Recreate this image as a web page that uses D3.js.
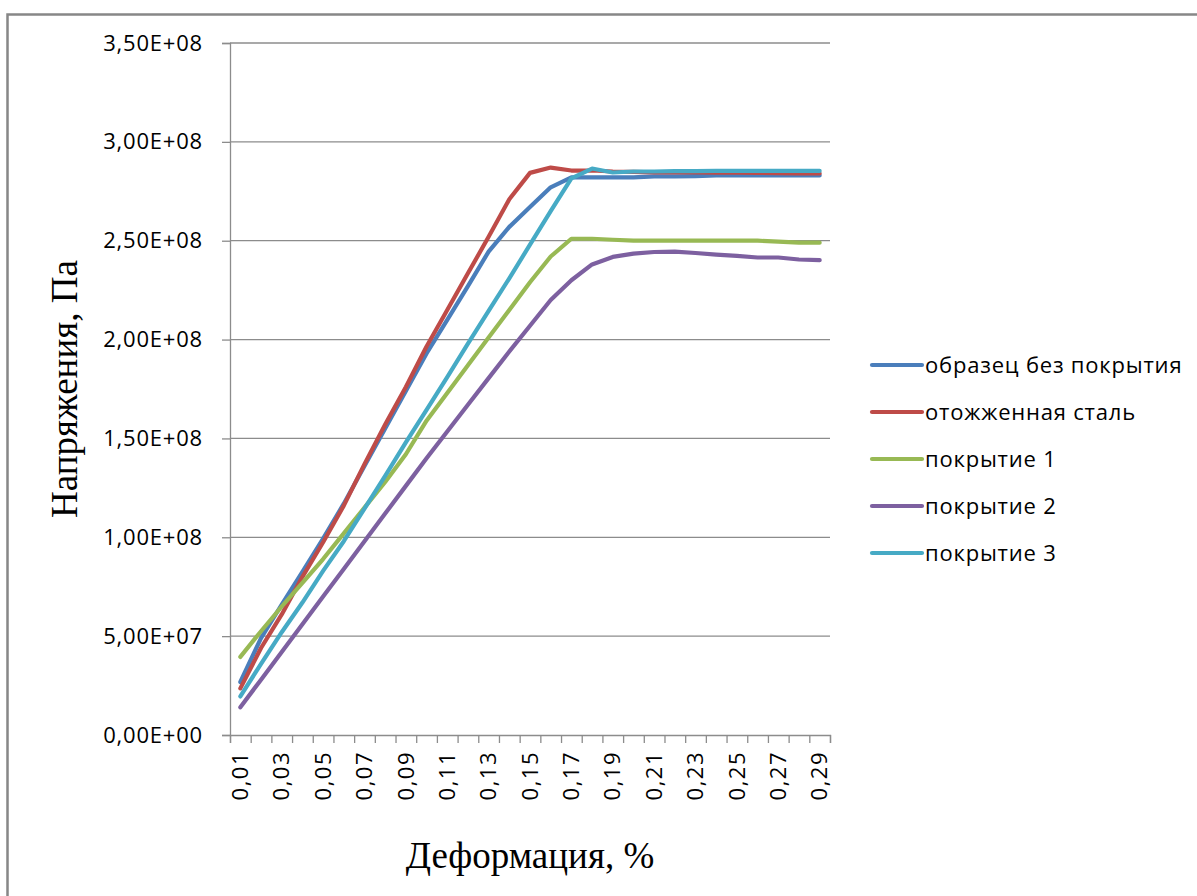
<!DOCTYPE html>
<html>
<head>
<meta charset="utf-8">
<script src="https://cdn.jsdelivr.net/npm/d3@7"></script>
<style>
  html, body { margin: 0; padding: 0; background: #fff; }
  svg { display: block; }
</style>
</head>
<body>
<svg id="chart" width="1197" height="896"></svg>
<script>
// Strain categories, %
const strain = ["0,01","0,02","0,03","0,04","0,05","0,06","0,07","0,08","0,09","0,10",
                "0,11","0,12","0,13","0,14","0,15","0,16","0,17","0,18","0,19","0,20",
                "0,21","0,22","0,23","0,24","0,25","0,26","0,27","0,28","0,29"];

// Stress, Pa (in millions below, scaled by 1e6 when drawn)
const uncoated = [26.8, 49, 66, 82.5, 99.3, 117, 136, 155, 174, 193,
                  210, 227, 244.5, 257, 267, 277, 282, 282, 282, 282,
                  282.5, 282.5, 282.7, 283, 283, 283, 283, 283, 283];
const annealed = [23.6, 44, 61, 80, 97.5, 116, 137, 157, 176, 196.5,
                  215, 233.5, 252, 271, 284.3, 287, 285.5, 285.5, 285, 284.8,
                  284.6, 284.5, 284.5, 284.4, 284.4, 284.3, 284.2, 284.1, 284];
const coating1 = [39.5, 52.5, 65, 77, 89, 102, 115, 128, 142, 159,
                  173, 187, 201, 215, 229, 242, 251, 251, 250.5, 250,
                  250, 250, 250, 250, 250, 250, 249.5, 249, 249];
const coating2 = [14, 28, 42, 56, 70, 84, 98, 112, 126, 140,
                  153.5, 167, 180.5, 194, 207, 220, 230, 238, 241.8, 243.5,
                  244.3, 244.5, 243.8, 243, 242.3, 241.5, 241.5, 240.5, 240.2];
const coating3 = [19.5, 36, 52, 67, 83, 98, 114.5, 131, 148, 164.5,
                  181, 198, 214.5, 231, 248, 265, 281.5, 286.5, 284.5, 285,
                  285, 285.2, 285.2, 285.3, 285.3, 285.3, 285.3, 285.3, 285.3];

const seriesNames  = ["образец без покрытия", "отожженная сталь", "покрытие 1", "покрытие 2", "покрытие 3"];
const seriesValues = [uncoated, annealed, coating1, coating2, coating3];
const seriesColors = ["#4A7EBB", "#BE4B48", "#98B954", "#7D60A0", "#46AAC5"];

const yTickValues = [0, 5e7, 1e8, 1.5e8, 2e8, 2.5e8, 3e8, 3.5e8];
const yTickLabels = ["0,00E+00","5,00E+07","1,00E+08","1,50E+08","2,00E+08","2,50E+08","3,00E+08","3,50E+08"];
const xLabelEvery = 2;

const yTitle = "Напряжения, Па";
const xTitle = "Деформация, %";

const svg = d3.select("#chart");
const plot = { left: 230, right: 830, top: 43, bottom: 735 };
const gridColor = "#8c8c8c";
const labelFont = "'Open Sans', sans-serif";
const titleFont = "'Liberation Serif', 'Times New Roman', serif";

// outer chart frame
svg.append("rect")
  .attr("x", 7.5).attr("y", 14.5)
  .attr("width", 1210).attr("height", 900)
  .attr("fill", "none").attr("stroke", "#878787").attr("stroke-width", 2.5);

const x = d3.scaleBand().domain(strain).range([plot.left, plot.right]).padding(0);
const xEdge = d3.scaleLinear().domain([0, strain.length]).range([plot.left, plot.right]);
const y = d3.scaleLinear().domain([0, 3.5e8]).range([plot.bottom, plot.top]);

// horizontal gridlines
svg.append("g")
  .selectAll("line")
  .data(yTickValues.slice(1))
  .join("line")
  .attr("x1", plot.left).attr("x2", plot.right)
  .attr("y1", d => y(d)).attr("y2", d => y(d))
  .attr("stroke", gridColor).attr("stroke-width", 1.3);

// y axis
const yAxis = d3.axisLeft(y)
  .tickValues(yTickValues)
  .tickFormat((d, i) => yTickLabels[i])
  .tickSize(8).tickPadding(19);
const gy = svg.append("g").attr("transform", `translate(${plot.left},0)`).call(yAxis);
gy.select(".domain").attr("stroke", gridColor).attr("stroke-width", 1.3);
gy.selectAll(".tick line").attr("stroke", gridColor).attr("stroke-width", 1.3);
gy.selectAll(".tick text")
  .attr("font-family", labelFont).attr("font-size", 22)
  .attr("letter-spacing", "0.8px").attr("fill", "#000");

// x axis: tick marks on category boundaries
const xAxisMarks = d3.axisBottom(xEdge)
  .tickValues(d3.range(strain.length + 1))
  .tickFormat("").tickSize(8);
const gx = svg.append("g").attr("transform", `translate(0,${plot.bottom})`).call(xAxisMarks);
gx.select(".domain").attr("stroke", gridColor).attr("stroke-width", 1.3);
gx.selectAll(".tick line").attr("stroke", gridColor).attr("stroke-width", 1.3);

// x axis labels, rotated, every second category
const xAxisLabels = d3.axisBottom(x)
  .tickValues(strain.filter((d, i) => i % xLabelEvery === 0))
  .tickSize(0);
const gxl = svg.append("g").attr("transform", `translate(0,${plot.bottom})`).call(xAxisLabels);
gxl.select(".domain").remove();
gxl.selectAll(".tick text")
  .attr("font-family", labelFont).attr("font-size", 22)
  .attr("letter-spacing", "1.5px").attr("fill", "#000")
  .attr("transform", "rotate(-90)")
  .attr("text-anchor", "end")
  .attr("x", -16).attr("y", 0).attr("dy", "0.35em");

// series lines
const line = d3.line()
  .x((d, i) => x(strain[i]) + x.bandwidth() / 2)
  .y(d => y(d * 1e6));
svg.append("g")
  .selectAll("path")
  .data(seriesValues)
  .join("path")
  .attr("d", d => line(d))
  .attr("fill", "none")
  .attr("stroke", (d, i) => seriesColors[i])
  .attr("stroke-width", 4.2)
  .attr("stroke-linejoin", "round")
  .attr("stroke-linecap", "round");

// legend
const legend = svg.append("g").attr("transform", "translate(870,365)");
const rows = legend.selectAll("g").data(seriesNames).join("g")
  .attr("transform", (d, i) => `translate(0,${i * 47})`);
rows.append("line")
  .attr("x1", 2).attr("x2", 52).attr("y1", 0).attr("y2", 0)
  .attr("stroke", (d, i) => seriesColors[i]).attr("stroke-width", 4.2)
  .attr("stroke-linecap", "round");
rows.append("text")
  .attr("x", 55).attr("y", 0).attr("dy", "0.35em")
  .attr("font-family", labelFont).attr("font-size", 22)
  .attr("letter-spacing", "0.8px").attr("fill", "#000")
  .text(d => d);

// axis titles
svg.append("text")
  .attr("transform", `translate(77,${(plot.top + plot.bottom) / 2}) rotate(-90)`)
  .attr("text-anchor", "middle")
  .attr("font-family", titleFont)
  .attr("font-size", 37).attr("fill", "#000")
  .text(yTitle);
svg.append("text")
  .attr("x", (plot.left + plot.right) / 2).attr("y", 868)
  .attr("text-anchor", "middle")
  .attr("font-family", titleFont)
  .attr("font-size", 37).attr("fill", "#000")
  .text(xTitle);
</script>
</body>
</html>
